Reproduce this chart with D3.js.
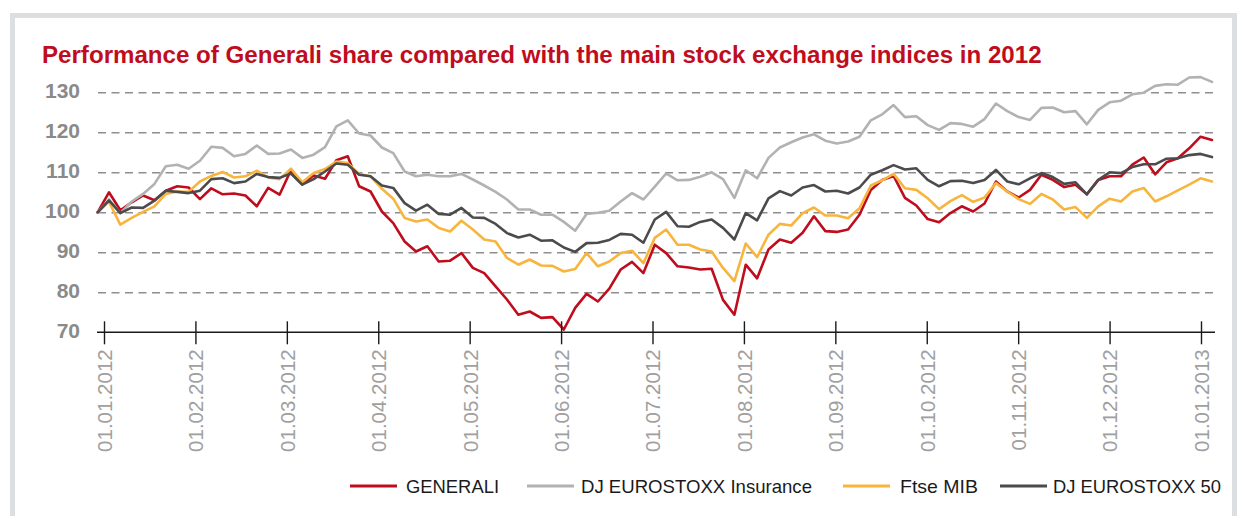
<!DOCTYPE html>
<html>
<head>
<meta charset="utf-8">
<script src="https://cdn.jsdelivr.net/npm/d3@7"></script>
<style>
  html, body { margin: 0; padding: 0; background: #ffffff; }
  svg { display: block; }
</style>
</head>
<body>
<svg id="chart" width="1242" height="516"></svg>
<script>
// ---------- DATA ----------
const title = "Performance of Generali share compared with the main stock exchange indices in 2012";
const tickLabels = ["01.01.2012","01.02.2012","01.03.2012","01.04.2012","01.05.2012","01.06.2012",
  "01.07.2012","01.08.2012","01.09.2012","01.10.2012","01.11.2012","01.12.2012","01.01.2013"];
const yTicks = [70, 80, 90, 100, 110, 120, 130];
// time span in months from 01.01.2012 (data from 30.12.2011 to ~04.01.2013)
const tStart = -0.07, tEnd = 12.12;

const generali = [100,105,100.5,102.5,104.2,103,105.4,106.5,106.2,103.3,106,104.5,104.7,104.2,101.5,106.1,104.4,110.5,107,109.2,
  108.4,113,114,106.5,105.2,100.2,97.3,92.7,90.2,91.5,87.7,87.9,89.8,86.1,84.8,81.5,78.2,74.4,75.2,73.6,
  73.8,70.7,76.1,79.6,77.7,80.9,85.7,87.6,84.8,91.9,89.8,86.5,86.2,85.7,85.9,78.1,74.4,86.9,83.5,90.7,
  93.2,92.4,94.9,99,95.3,95.1,95.7,99.4,105.6,108.1,109.1,103.6,101.7,98.3,97.5,99.8,101.5,100.2,102.2,107.7,
  105.2,103.7,105.6,109.4,108.1,106.3,106.9,104.5,108.1,109,109,111.9,113.7,109.5,112.5,113.5,116,118.9,118.1];
const insurance = [100,103.2,99.8,102.7,104.6,107.1,111.5,111.9,110.9,112.9,116.4,116.1,114,114.6,116.7,114.6,114.7,115.7,113.6,114.4,
  116.3,121.5,123,119.7,119.2,116.2,114.8,110.2,109,109.4,109,109,109.6,108.2,106.7,105.1,103.2,100.7,100.7,99.4,
  99.4,97.6,95.4,99.6,99.9,100.4,102.7,104.8,103.2,106.4,109.7,108,108.1,108.9,110,108.3,103.6,110.5,108.5,113.6,
  116.2,117.5,118.7,119.5,117.9,117.2,117.7,118.9,123,124.5,126.8,123.8,124,121.8,120.6,122.3,122.1,121.4,123.3,127.2,
  125.3,123.8,123.1,126.1,126.2,125,125.3,122,125.6,127.5,127.9,129.5,129.9,131.6,132,131.9,133.7,133.8,132.6];
const ftseMib = [100,102.6,96.9,98.6,100.1,101.5,104.6,105.2,105.1,107.7,109.1,110.1,108.7,109,110.4,108.7,108.3,110.9,107.5,109.8,
  110.8,112.7,112.3,109.6,109,105.9,103.4,98.6,97.7,98.2,96.1,95.2,97.9,95.7,93.2,92.7,88.6,86.9,88.2,86.7,
  86.6,85.2,85.8,89.8,86.5,87.7,89.8,90.4,87.3,93.6,95.7,91.9,91.9,90.7,90.2,86.1,82.8,92.2,88.8,94.4,
  97.1,96.7,99.8,101.2,99.2,99.2,98.5,101,106.7,108,109.6,106,105.6,103.5,100.8,102.8,104.3,102.6,103.7,107.3,
  105.2,103.3,102.1,104.6,103.2,100.7,101.3,98.6,101.5,103.4,102.7,105.2,106.1,102.7,104,105.5,106.9,108.5,107.7];
const stoxx50 = [100,103,99.8,101.2,101.1,102.9,105.4,105.1,104.8,105.4,108.3,108.5,107.3,107.7,109.6,108.8,108.6,109.7,106.9,108.3,
  110.2,112.2,111.9,109.4,109,106.7,106.1,102.3,100.4,101.9,99.6,99.4,101.1,98.7,98.6,97.1,94.8,93.7,94.4,92.9,
  93,91.2,90.1,92.3,92.4,93.1,94.6,94.4,92.4,98.2,100.1,96.5,96.4,97.6,98.2,96.1,93.2,99.8,98,103.5,
  105.3,104.2,106.2,106.8,105.2,105.4,104.7,106.2,109.4,110.5,111.8,110.7,111,108.1,106.5,107.8,107.9,107.3,108.1,110.6,
  107.7,107,108.5,109.8,108.8,107.1,107.5,104.5,108.1,110,109.8,111.3,112,112,113.4,113.5,114.3,114.6,113.8];

const seriesNames = ["GENERALI", "DJ EUROSTOXX Insurance", "Ftse MIB", "DJ EUROSTOXX 50"];
const seriesValues = [generali, insurance, ftseMib, stoxx50];
const seriesColors = ["#bf0d1e", "#b2b2b2", "#f8b53e", "#4b4b4d"];

// ---------- LAYOUT ----------
const svg = d3.select("#chart");
const x = d3.scaleLinear().domain([0, 12]).range([104, 1201]);
const y = d3.scaleLinear().domain([70, 130]).range([332.3, 92.3]);
const gridLeft = 98, gridRight = 1213;

// frame
svg.append("rect").attr("x", 12.5).attr("y", 15.5).attr("width", 1222).attr("height", 520)
  .attr("fill", "#ffffff").attr("stroke", "#dcdfdf").attr("stroke-width", 5);

// title
const titleText = svg.append("text").attr("x", 42).attr("y", 63)
  .attr("font-family", "'Liberation Sans', Arial, sans-serif").attr("font-weight", "bold")
  .attr("font-size", 22).attr("fill", "#bf0d1e").text(title);
const tw = titleText.node().getComputedTextLength();
titleText.attr("font-size", 22 * 1000 / tw);

// y axis with dashed gridlines
const yAxis = d3.axisLeft(y).tickValues(yTicks).tickSize(-(gridRight - gridLeft)).tickPadding(18)
  .tickFormat(d3.format("d"));
const gy = svg.append("g").attr("transform", `translate(${gridLeft},0)`).call(yAxis);
gy.select(".domain").remove();
gy.selectAll(".tick line").attr("stroke", "#8e8e8e").attr("stroke-width", 1.4)
  .attr("stroke-dasharray", "8,5.5")
  .attr("display", d => d === 70 ? "none" : null);
gy.selectAll(".tick text").attr("fill", "#8a8a8a").attr("font-size", 21).attr("font-weight", "bold")
  .attr("font-family", "'Liberation Sans', Arial, sans-serif").attr("dy", "0.26em");

// lines (legend order, last on top)
const line = d3.line()
  .x((d, i) => x(tStart + i * (tEnd - tStart) / (generali.length - 1)))
  .y(d => y(d))
  .curve(d3.curveLinear);
seriesValues.forEach((vals, k) => {
  svg.append("path").datum(vals).attr("d", line).attr("fill", "none")
    .attr("stroke", seriesColors[k]).attr("stroke-width", 2.6)
    .attr("stroke-linejoin", "round").attr("stroke-linecap", "round");
});

// x axis
const xAxis = d3.axisBottom(x).tickValues(d3.range(13)).tickSize(12).tickPadding(6)
  .tickFormat(i => tickLabels[i]);
const gx = svg.append("g").attr("transform", `translate(0,${y(70)})`).call(xAxis);
gx.select(".domain").attr("d", `M97,0H1215`).attr("stroke", "#1a1a1a").attr("stroke-width", 1.4);
gx.selectAll(".tick line").attr("y1", -11).attr("y2", 12).attr("stroke", "#1a1a1a").attr("stroke-width", 1.4);
gx.selectAll(".tick text")
  .attr("font-family", "'Liberation Sans', Arial, sans-serif").attr("font-size", 20.5)
  .attr("fill", "#a0a0a0")
  .attr("text-anchor", "end")
  .attr("transform", "rotate(-90)")
  .attr("x", -17).attr("y", 0).attr("dy", "0.36em");

// legend
const legendY = 486;
const legendLineX = [350, 527, 843, 1000];
const legendTextX = [406, 581, 900, 1053];
const legendTextW = [93, 231, 78, 168];
const lg = svg.append("g");
seriesNames.forEach((name, k) => {
  lg.append("line").attr("x1", legendLineX[k]).attr("x2", legendLineX[k] + 47)
    .attr("y1", legendY).attr("y2", legendY)
    .attr("stroke", seriesColors[k]).attr("stroke-width", 3);
  lg.append("text").attr("x", legendTextX[k]).attr("y", legendY).attr("dy", "0.36em")
    .attr("font-family", "'Liberation Sans', Arial, sans-serif").attr("font-size", 19)
    .attr("fill", "#1a1a1a")
    .attr("textLength", legendTextW[k]).attr("lengthAdjust", "spacingAndGlyphs")
    .text(name);
});
</script>
</body>
</html>
